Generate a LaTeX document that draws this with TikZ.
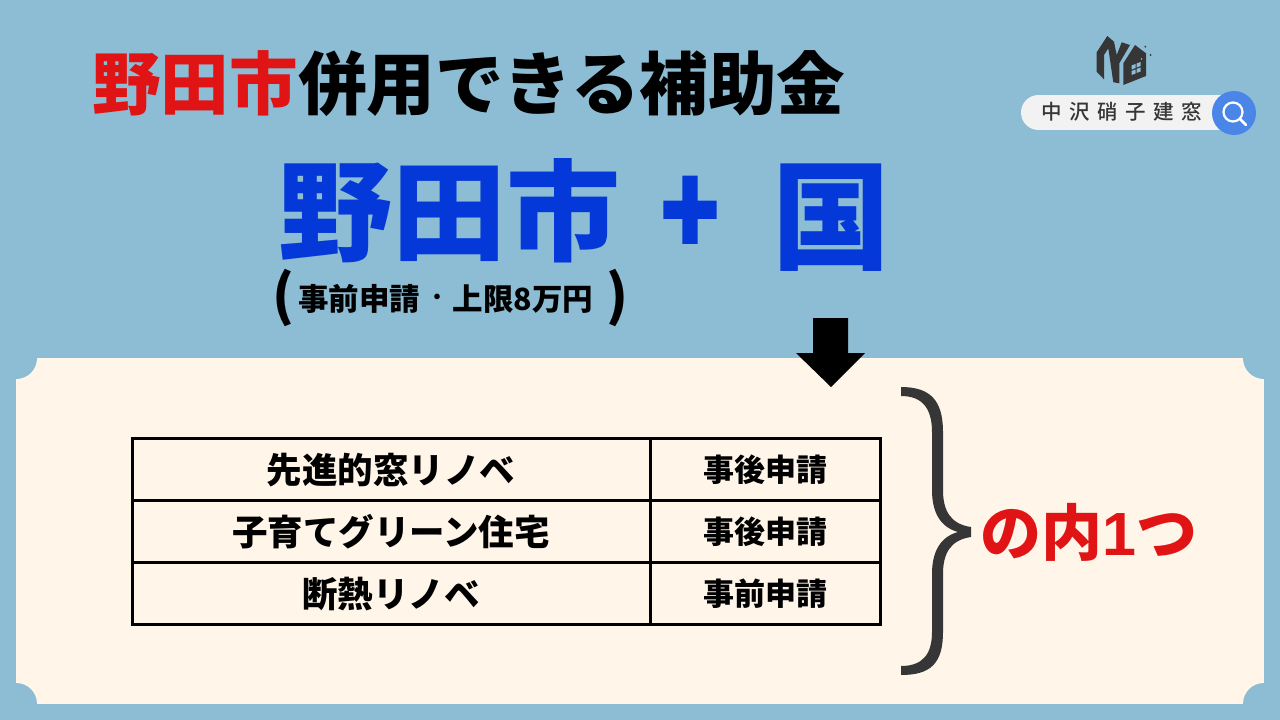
\documentclass[tikz,border=0pt]{standalone}
\usepackage{fontspec}
\setmainfont{Noto Sans CJK JP}
\newfontfamily\cjkm{Noto Sans CJK JP Medium}
\newfontfamily\plusf[FakeBold=3]{Noto Sans CJK JP Black}
\newfontfamily\latinb{Liberation Sans}
\definecolor{bgblue}{HTML}{8CBDD4}
\definecolor{panelc}{HTML}{FFF5E9}
\definecolor{redc}{HTML}{E01414}
\definecolor{bluec}{HTML}{0538D8}
\definecolor{darkc}{HTML}{363636}
\definecolor{searchc}{HTML}{4A86E8}
\definecolor{pillc}{HTML}{F2F2F2}
\tikzset{
  lbl/.style={inner sep=0pt,font=\bfseries,text=black},
  cellline/.style={draw=black,line width=3pt},
}
\begin{document}
\begin{tikzpicture}[x=1pt,y=-1pt]
\useasboundingbox (0,0) rectangle (1280,720);
\fill[bgblue] (0,0) rectangle (1280,720);
% panel
\fill[panelc] (16,358) rectangle (1264,704);
\foreach \cx/\cy in {16/358,1264/358,16/704,1264/704}
  \fill[bgblue] (\cx,\cy) circle[radius=21];
% title
\node[lbl,anchor=west,font=\bfseries\fontsize{68.6}{69}\selectfont] (title) at (92,84) {\textcolor{redc}{野田市}\cjkm 併用できる補助金};
% big
\node[lbl,anchor=center,text=bluec,font=\bfseries\fontsize{114}{114}\selectfont] (bigcity) at (449,211) {\scalebox{1}[.96]{野田市}};
\node[lbl,anchor=center,text=bluec,font=\plusf\fontsize{95}{95}\selectfont] (plus) at (690,216) {\scalebox{1}[1.25]{+}};
\node[lbl,anchor=center,text=bluec,font=\bfseries\fontsize{118}{118}\selectfont] (country) at (831,217.5) {国};
% sub
\node[lbl,anchor=center,font=\bfseries\fontsize{55}{55}\selectfont] (lp) at (283,298) {(};
\node[lbl,anchor=center,font=\bfseries\fontsize{30.5}{31}\selectfont] (subta) at (359,299) {事前申請};
\node[lbl,anchor=center,font=\bfseries\fontsize{20}{20}\selectfont] (subtd) at (437,299) {・};
\node[lbl,anchor=center,font=\bfseries\fontsize{30.5}{31}\selectfont] (subtb) at (523,299) {上限8万円};
\node[lbl,anchor=center,font=\bfseries\fontsize{55}{55}\selectfont] (rp) at (617,298) {)};
% arrow
\fill[black] (813,318) -- (848,318) -- (848,353) -- (865,353) -- (831,387) -- (796,353) -- (813,353) -- cycle;
% table
\draw[cellline] (132.5,438.5) rectangle (880.5,624.5);
\draw[cellline] (132.5,500.5) -- (880.5,500.5);
\draw[cellline] (132.5,562.5) -- (880.5,562.5);
\draw[cellline] (650.5,438.5) -- (650.5,624.5);
\node[lbl,font=\bfseries\fontsize{35.5}{36}\selectfont] (a1) at (391,470) {先進的窓リノベ};
\node[lbl,font=\bfseries\fontsize{35.5}{36}\selectfont] (a2) at (391,532) {子育てグリーン住宅};
\node[lbl,font=\bfseries\fontsize{35.5}{36}\selectfont] (a3) at (391,594) {断熱リノベ};
\node[lbl,font=\bfseries\fontsize{31}{31}\selectfont] (b1) at (765,470) {事後申請};
\node[lbl,font=\bfseries\fontsize{31}{31}\selectfont] (b2) at (765,532) {事後申請};
\node[lbl,font=\bfseries\fontsize{31}{31}\selectfont] (b3) at (765,594) {事前申請};
% brace
\fill[darkc] (901,387) .. controls (930,387) and (943,400) .. (943,432) -- (943,490) .. controls (943,510) and (950,524) .. (971,527) -- (971,537) .. controls (950,540) and (943,554) .. (943,574) -- (943,632) .. controls (943,664) and (930,675) .. (901,675) -- (901,666) .. controls (922,666) and (932,655) .. (932,632) -- (932,574) .. controls (932,552) and (940,537) .. (958,532) .. controls (940,527) and (932,512) .. (932,490) -- (932,432) .. controls (932,408) and (922,396) .. (901,396) -- cycle;
\node[lbl,text=redc,font=\bfseries\fontsize{61}{61}\selectfont] (res) at (1089,532) {の内{\latinb\bfseries 1}つ};
% search bar
\fill[pillc] (1038.5,95) rectangle (1225,130);
\fill[pillc] (1038.5,112.5) circle[radius=17.5];
\node[inner sep=0pt,text=darkc,font=\cjkm\fontsize{20.5}{21}\selectfont] (logo) at (1122,112) {中\hspace{7.5pt}沢\hspace{7.5pt}硝\hspace{7.5pt}子\hspace{7.5pt}建\hspace{7.5pt}窓};
\fill[searchc] (1234,113) circle[radius=22];
\draw[white,line width=2.2pt] (1233,112) circle[radius=9.5];
\draw[white,line width=2.6pt,line cap=round] (1240,119) -- (1246,125);
% logo mark
\fill[darkc] (1096.7,52.3) -- (1107.3,36) -- (1114,41.7) -- (1116.7,55) -- (1121.7,42.3) -- (1130,45) -- (1119.3,63.3) -- (1119.3,83.3) -- (1113.3,82.3) -- (1108.3,48.3) -- (1104,55) -- (1104,79.3) -- (1096.7,71.7) -- cycle;
\fill[darkc] (1123.3,85) -- (1123.3,63.3) -- (1135,45) -- (1146,53.3) -- (1146,76) -- cycle;
\foreach \wx/\wy in {1131.5/65.5,1136.5/63.5,1131.5/71,1136.5/69}
  \fill[bgblue] (\wx,\wy) -- ++(4,-1.5) -- ++(0,4) -- ++(-4,1.5) -- cycle;
\fill[bgblue] (1141.5,59) circle[radius=0.9];
\fill[darkc] (1145.3,46.7) circle[radius=1];
\fill[darkc] (1150.7,55) circle[radius=1];
\end{tikzpicture}
\end{document}
